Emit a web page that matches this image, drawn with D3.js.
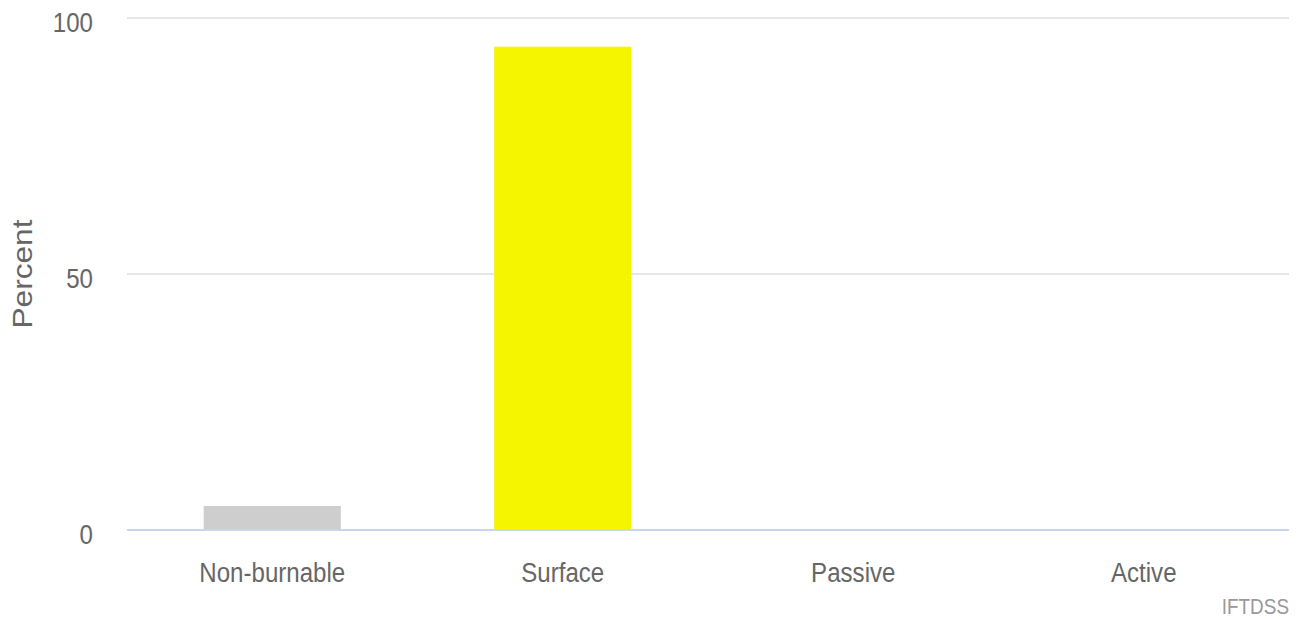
<!DOCTYPE html>
<html>
<head>
<meta charset="utf-8">
<script src="https://cdn.jsdelivr.net/npm/d3@7"></script>
<style>
  html, body { margin: 0; padding: 0; background: #fff; }
  svg { display: block; }
  text { font-family: "Liberation Sans", Arial, Helvetica, sans-serif; }
</style>
</head>
<body>
<svg id="chart"></svg>
<script>
const categories = ['Non-burnable', 'Surface', 'Passive', 'Active'];
const values = [4.7, 94.4, 0, 0];
const barColors = ['#cecece', '#f5f500', '#f5a300', '#e00000'];
const yTicks = [0, 50, 100];

const width = 1301, height = 619;
const margin = { top: 18, right: 12, bottom: 89, left: 127 };
const squeeze = 0.86; // the reference text is a bit narrow

const svg = d3.select('#chart')
  .attr('width', width)
  .attr('height', height);

const x = d3.scaleBand()
  .domain(categories)
  .range([margin.left, width - margin.right]);

const y = d3.scaleLinear()
  .domain([0, 100])
  .range([height - margin.bottom, margin.top]);

// grid lines
svg.append('g')
  .selectAll('line')
  .data(yTicks.filter(d => d !== 0))
  .enter()
  .append('line')
    .attr('x1', margin.left)
    .attr('x2', width - margin.right)
    .attr('y1', d => y(d))
    .attr('y2', d => y(d))
    .style('stroke', '#e6e6e6')
    .style('stroke-width', 2);

// y tick labels
svg.append('g')
  .selectAll('text')
  .data(yTicks)
  .enter()
  .append('text')
    .attr('transform', d => `translate(93,${y(d) + 4}) scale(${squeeze},1)`)
    .attr('dy', '0.35em')
    .attr('text-anchor', 'end')
    .style('font-size', '28px')
    .style('fill', '#666')
    .text(d => d);

// axis title
svg.append('text')
  .attr('transform', `translate(32,${(y(0) + y(100)) / 2}) rotate(-90) scale(1.13,1)`)
  .attr('text-anchor', 'middle')
  .style('font-size', '28px')
  .style('fill', '#666')
  .text('Percent');

// bars
const barW = x.bandwidth() * 0.472;
svg.append('g')
  .selectAll('rect')
  .data(categories)
  .enter()
  .append('rect')
    .attr('x', d => x(d) + (x.bandwidth() - barW) / 2)
    .attr('width', barW)
    .attr('y', (d, i) => y(values[i]))
    .attr('height', (d, i) => y(0) - y(values[i]))
    .style('fill', (d, i) => barColors[i]);

// baseline
svg.append('line')
  .attr('x1', margin.left)
  .attr('x2', width - margin.right)
  .attr('y1', y(0))
  .attr('y2', y(0))
  .style('stroke', '#ccd6eb')
  .style('stroke-width', 2);

// category labels
svg.append('g')
  .selectAll('text')
  .data(categories)
  .enter()
  .append('text')
    .attr('transform', d => `translate(${x(d) + x.bandwidth() / 2},572) scale(${squeeze},1)`)
    .attr('dy', '0.35em')
    .attr('text-anchor', 'middle')
    .style('font-size', '28px')
    .style('fill', '#666')
    .text(d => d);

// credit
svg.append('text')
  .attr('transform', `translate(1289,606) scale(${squeeze},1)`)
  .attr('dy', '0.35em')
  .attr('text-anchor', 'end')
  .style('font-size', '22px')
  .style('fill', '#999')
  .text('IFTDSS');
</script>
</body>
</html>
